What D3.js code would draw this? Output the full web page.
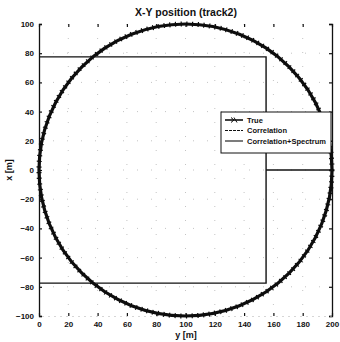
<!DOCTYPE html>
<html>
<head>
<meta charset="utf-8">
<script src="https://cdn.jsdelivr.net/npm/d3@7"></script>
<style>
  body { margin: 0; background: #fff; }
  text { font-family: "Liberation Sans", Arial, sans-serif; font-weight: bold; fill: #111; }
</style>
</head>
<body>
<div id="chart"></div>
<script>
// axis ticks
const xTicks = [0, 20, 40, 60, 80, 100, 120, 140, 160, 180, 200];
const yTicks = [-100, -80, -60, -40, -20, 0, 20, 40, 60, 80, 100];

// "True" track: circle, centre and radius in metres
const trueCenter = [100, 0];
const trueRadius = 100;

// "Correlation" estimate
const corrY = [0, 155, 155, 0];
const corrX = [77.5, 77.5, -77.5, -77.5];

// "Correlation+Spectrum" estimate
const specY = [155, 200];
const specX = [0, 0];

const legendLabels = ["True", "Correlation", "Correlation+Spectrum"];

const W = 340, H = 342;
const m = { top: 24, right: 8, bottom: 26, left: 39 };

const svg = d3.select("#chart").append("svg")
  .attr("width", W).attr("height", H);

const x = d3.scaleLinear().domain([0, 200]).range([m.left, W - m.right]);
const y = d3.scaleLinear().domain([-100, 100]).range([H - m.bottom, m.top]);

// dotted grid, faint like the scan
const grid = svg.append("g").attr("stroke", "#aaa").attr("stroke-width", 0.7)
  .attr("stroke-dasharray", "1,13");
grid.selectAll("line.gx").data(xTicks.slice(1, -1)).enter().append("line")
  .attr("x1", d => x(d)).attr("x2", d => x(d))
  .attr("y1", y(100)).attr("y2", y(-100));
grid.selectAll("line.gy").data(yTicks.slice(1, -1)).enter().append("line")
  .attr("x1", x(0)).attr("x2", x(200))
  .attr("y1", d => y(d)).attr("y2", d => y(d));

// axes (left/right solid, top/bottom only ticks)
const axL = svg.append("g").attr("transform", `translate(${x(0)},0)`)
  .call(d3.axisLeft(y).tickValues(yTicks).tickSize(-3).tickPadding(5));
const axR = svg.append("g").attr("transform", `translate(${x(200)},0)`)
  .call(d3.axisRight(y).tickValues(yTicks).tickSize(-3).tickFormat(""));
const axB = svg.append("g").attr("transform", `translate(0,${y(-100)})`)
  .call(d3.axisBottom(x).tickValues(xTicks).tickSize(-3).tickPadding(5));
const axT = svg.append("g").attr("transform", `translate(0,${y(100)})`)
  .call(d3.axisTop(x).tickValues(xTicks).tickSize(-3).tickFormat(""));

[axL, axR, axB, axT].forEach(a => {
  a.selectAll("line").attr("stroke", "#111").attr("stroke-width", 1.2);
  a.selectAll("text").style("font-size", "8px").attr("fill", "#111");
});
axL.select(".domain").attr("stroke", "#111").attr("stroke-width", 1.3);
axR.select(".domain").attr("stroke", "#111").attr("stroke-width", 1.3);
axB.select(".domain").attr("stroke", "#bbb").attr("stroke-width", 0.6).attr("stroke-dasharray", "2,4");
axT.select(".domain").attr("stroke", "none");

// True track
svg.append("ellipse")
  .attr("cx", x(trueCenter[0])).attr("cy", y(trueCenter[1]))
  .attr("rx", x(trueCenter[0] + trueRadius) - x(trueCenter[0]))
  .attr("ry", y(trueCenter[1] - trueRadius) - y(trueCenter[1]))
  .attr("fill", "none").attr("stroke", "#0d0d0d").attr("stroke-width", 3.2);
// marker-ish roughness along the track
svg.append("ellipse")
  .attr("cx", x(trueCenter[0])).attr("cy", y(trueCenter[1]))
  .attr("rx", x(trueCenter[0] + trueRadius) - x(trueCenter[0]))
  .attr("ry", y(trueCenter[1] - trueRadius) - y(trueCenter[1]))
  .attr("fill", "none").attr("stroke", "#0d0d0d").attr("stroke-width", 5)
  .attr("stroke-dasharray", "1.2,4.5");

const line = d3.line().x(d => x(d[0])).y(d => y(d[1]));

svg.append("path")
  .datum(d3.zip(corrY, corrX))
  .attr("d", line)
  .attr("fill", "none").attr("stroke", "#111").attr("stroke-width", 1.4);

svg.append("path")
  .datum(d3.zip(specY, specX))
  .attr("d", line)
  .attr("fill", "none").attr("stroke", "#111").attr("stroke-width", 1.4);

// legend
const lg = svg.append("g").attr("transform", "translate(221,112)");
lg.append("rect").attr("width", 110).attr("height", 41)
  .attr("fill", "#fff").attr("stroke", "#111").attr("stroke-width", 1);
const rows = lg.selectAll("g.row").data(legendLabels).enter().append("g")
  .attr("transform", (d, i) => `translate(0,${8 + i * 10.5})`);
rows.append("line").attr("x1", 4).attr("x2", 22)
  .attr("stroke", "#111")
  .attr("stroke-width", (d, i) => i === 0 ? 1.6 : 1.1)
  .attr("stroke-dasharray", (d, i) => i === 1 ? "3,1" : null);
rows.filter((d, i) => i === 0).append("path")
  .attr("d", "M10,-2.5L13,0L10,2.5M13,-2.5L16,2.5")
  .attr("stroke", "#111").attr("fill", "none").attr("stroke-width", 1);
rows.append("text").attr("x", 26).attr("dy", "0.35em")
  .style("font-size", "7.5px").text(d => d);

// title and axis labels
svg.append("text").attr("x", 186).attr("y", 16).attr("text-anchor", "middle")
  .style("font-size", "10.5px").text("X-Y position (track2)");
svg.append("text").attr("x", 186).attr("y", 338).attr("text-anchor", "middle")
  .style("font-size", "9px").text("y [m]");
svg.append("text").attr("transform", "translate(12,170) rotate(-90)")
  .attr("text-anchor", "middle").style("font-size", "9px").text("x [m]");
</script>
</body>
</html>
